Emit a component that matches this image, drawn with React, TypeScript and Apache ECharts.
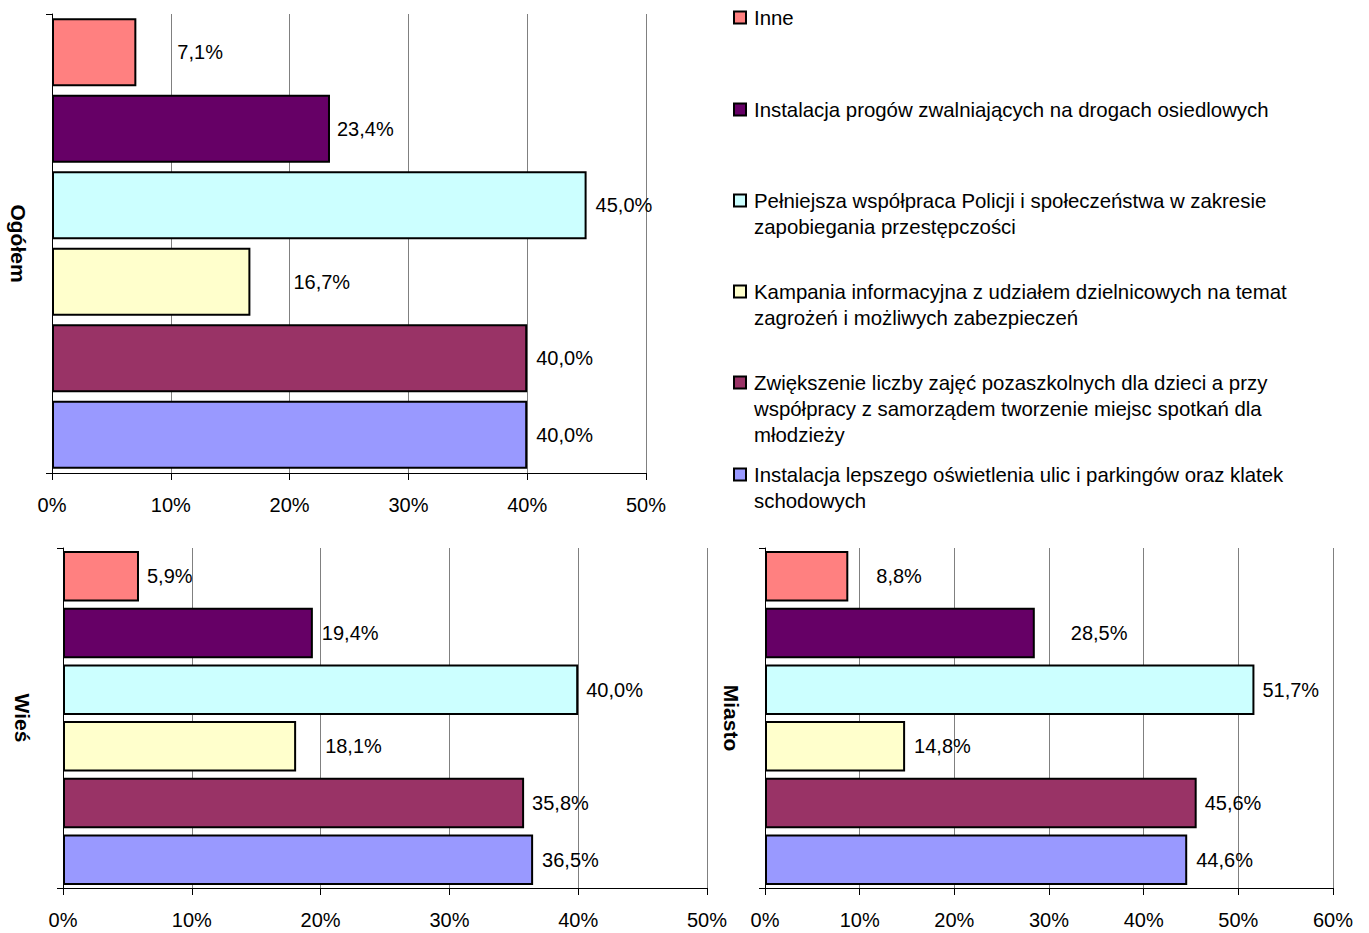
import React, { useEffect, useRef } from 'react';
import * as echarts from 'echarts';

const categories = [
  'Inne',
  'Instalacja progów zwalniających na drogach osiedlowych',
  'Pełniejsza współpraca Policji i społeczeństwa w zakresie\nzapobiegania przestępczości',
  'Kampania informacyjna z udziałem dzielnicowych na temat\nzagrożeń i możliwych zabezpieczeń',
  'Zwiększenie liczby zajęć pozaszkolnych dla dzieci a przy\nwspółpracy z samorządem tworzenie miejsc spotkań dla\nmłodzieży',
  'Instalacja lepszego oświetlenia ulic i parkingów oraz klatek\nschodowych',
];
const colors = ['#FF8080', '#660066', '#CCFFFF', '#FFFFCC', '#993366', '#9999FF'];
const ogolemValues = [7.1, 23.4, 45.0, 16.7, 40.0, 40.0];
const wiesValues = [5.9, 19.4, 40.0, 18.1, 35.8, 36.5];
const miastoValues = [8.8, 28.5, 51.7, 14.8, 45.6, 44.6];
const panelTitles = ['Ogółem', 'Wieś', 'Miasto'];
const axisMaxes = [50, 50, 60];

// layout (kept apart from the data)
const grids = [
  { left: 52, top: 14, width: 594, height: 459 },
  { left: 63, top: 548, width: 644, height: 340 },
  { left: 765, top: 548, width: 568, height: 340 },
];
const nameGaps = [23, 30, 23];
const labelGaps = [
  [41, 7, 9, 43, 9, 9],
  [8, 9, 8, 29, 8, 9],
  [28, 36, 8, 9, 8, 9],
];
const legendLineCenters = [18, 110, 201, 292, 383, 475];
const FONT = '"Liberation Sans", Arial, sans-serif';

export default function App() {
  const ref = useRef<HTMLDivElement>(null);
  useEffect(() => {
    if (!ref.current) return;
    const chart = echarts.init(ref.current, undefined, { renderer: 'svg' });
    const panels = [ogolemValues, wiesValues, miastoValues];
    const plain = categories.map((c) => c.replace(/\n/g, ' '));
    const fmt = (p: any) => p.value.toFixed(1).replace('.', ',') + '%';

    const graphic: any[] = [];
    categories.forEach((c, i) => {
      const cy = legendLineCenters[i];
      graphic.push({
        type: 'rect',
        shape: { x: 734, y: cy - 6.5, width: 12, height: 12 },
        style: { fill: colors[i], stroke: '#000', lineWidth: 2 },
      });
      graphic.push({
        type: 'text',
        x: 754,
        y: cy - 13,
        style: {
          text: c,
          font: `20.4px ${FONT}`,
          lineHeight: 26,
          fill: '#000',
          verticalAlign: 'top',
          align: 'left',
        },
      });
    });

    chart.setOption({
      animation: false,
      textStyle: { fontFamily: FONT },
      grid: grids.map((g) => ({ ...g, containLabel: false })),
      xAxis: panels.map((_, i) => ({
        type: 'value',
        gridIndex: i,
        min: 0,
        max: axisMaxes[i],
        interval: 10,
        axisLine: { show: true, lineStyle: { color: '#000', width: 1 } },
        axisTick: { show: true, length: 7, lineStyle: { color: '#000' } },
        splitLine: { show: true, lineStyle: { color: '#808080', width: 1 } },
        axisLabel: {
          formatter: '{value}%',
          fontSize: 20,
          color: '#000',
          margin: 22,
          fontFamily: FONT,
        },
      })),
      yAxis: panels.map((_, i) => ({
        type: 'category',
        gridIndex: i,
        inverse: true,
        data: plain,
        axisLabel: { show: false },
        axisLine: { show: true, lineStyle: { color: '#000', width: 1 } },
        axisTick: { show: true, length: 6, interval: (idx: number) => idx === 0, lineStyle: { color: '#000' } },
        splitLine: { show: false },
        name: panelTitles[i],
        nameLocation: 'middle',
        nameRotate: -90,
        nameGap: nameGaps[i],
        nameTextStyle: { fontWeight: 'bold', fontSize: 21, color: '#000', fontFamily: FONT },
      })),
      series: panels.map((vals, i) => ({
        type: 'bar',
        name: panelTitles[i],
        xAxisIndex: i,
        yAxisIndex: i,
        barCategoryGap: '11%',
        itemStyle: { borderColor: '#000', borderWidth: 2 },
        label: {
          show: true,
          position: 'right',
          formatter: fmt,
          fontSize: 20,
          color: '#000',
          fontFamily: FONT,
        },
        data: vals.map((v, j) => ({
          value: v,
          itemStyle: { color: colors[j] },
          label: { distance: labelGaps[i][j] },
        })),
      })),
      graphic,
    });
    return () => chart.dispose();
  }, []);
  return (
    <div
      ref={ref}
      style={{ position: 'absolute', left: 0, top: 0, width: 1369, height: 933, background: '#fff' }}
    />
  );
}
